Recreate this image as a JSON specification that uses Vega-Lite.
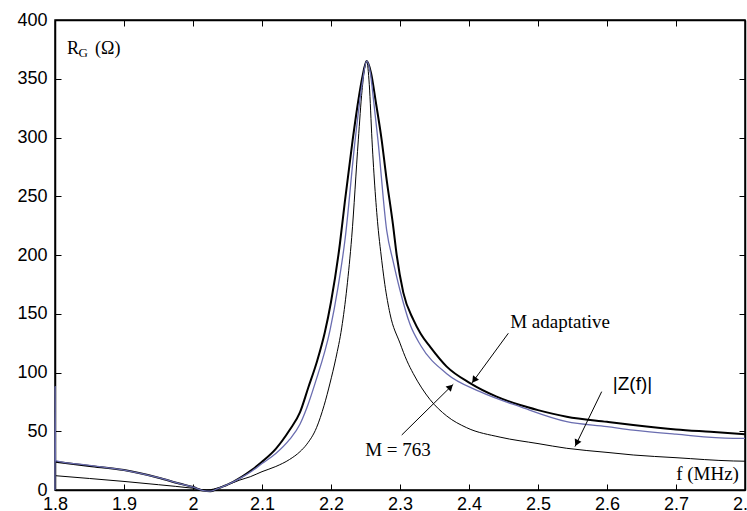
{
  "$schema": "https://vega.github.io/schema/vega-lite/v6.json",
  "width": 690,
  "height": 470,
  "autosize": {"type": "none"},
  "padding": {"left": 55, "top": 20, "right": 2, "bottom": 21},
  "background": "white",
  "config": {
    "view": {"stroke": "black", "strokeWidth": 1.5},
    "axis": {
      "grid": false,
      "domainColor": "black",
      "domainWidth": 1.5,
      "tickColor": "black",
      "tickWidth": 1,
      "labelFont": "Liberation Sans",
      "labelFontSize": 18,
      "labelColor": "black",
      "labelFlush": false,
      "labelOverlap": false,
      "labelBound": false
    }
  },
  "datasets": {
    "m763": [
      {"f": 1.8, "v": 12.2}, {"f": 1.85, "v": 9.8}, {"f": 1.9, "v": 7.3}, {"f": 1.95, "v": 4.5},
      {"f": 2.0, "v": 1.5}, {"f": 2.02, "v": 0}, {"f": 2.04, "v": 2.5}, {"f": 2.055, "v": 5.5},
      {"f": 2.068, "v": 8.5}, {"f": 2.083, "v": 11.3}, {"f": 2.1, "v": 15.6}, {"f": 2.12, "v": 20},
      {"f": 2.14, "v": 26}, {"f": 2.155, "v": 32.6}, {"f": 2.165, "v": 39}, {"f": 2.179, "v": 53},
      {"f": 2.19, "v": 72}, {"f": 2.1986, "v": 91}, {"f": 2.207, "v": 112}, {"f": 2.2155, "v": 138},
      {"f": 2.223, "v": 172}, {"f": 2.23, "v": 215}, {"f": 2.2396, "v": 298}, {"f": 2.245, "v": 340},
      {"f": 2.2517, "v": 365}, {"f": 2.2555, "v": 345}, {"f": 2.2594, "v": 298}, {"f": 2.2686, "v": 221},
      {"f": 2.272, "v": 203}, {"f": 2.278, "v": 175}, {"f": 2.2855, "v": 150}, {"f": 2.3, "v": 125},
      {"f": 2.31, "v": 110}, {"f": 2.3193, "v": 99}, {"f": 2.3435, "v": 77}, {"f": 2.3677, "v": 63},
      {"f": 2.3967, "v": 53}, {"f": 2.445, "v": 45}, {"f": 2.5, "v": 39.5}, {"f": 2.5416, "v": 35.5},
      {"f": 2.6, "v": 32}, {"f": 2.638, "v": 29.8}, {"f": 2.7, "v": 27.5}, {"f": 2.783, "v": 24.7},
      {"f": 2.8, "v": 24.5}
    ],
    "zf": [
      {"f": 1.8, "v": 0}, {"f": 1.8002, "v": 88}, {"f": 1.8006, "v": 25}, {"f": 1.85, "v": 21},
      {"f": 1.9, "v": 17}, {"f": 1.95, "v": 10.5}, {"f": 1.98, "v": 5.5}, {"f": 2.0, "v": 2.5},
      {"f": 2.015, "v": -0.5}, {"f": 2.025, "v": -1}, {"f": 2.035, "v": 1}, {"f": 2.05, "v": 4.5},
      {"f": 2.07, "v": 10.5}, {"f": 2.085, "v": 16}, {"f": 2.1, "v": 22.5}, {"f": 2.12, "v": 31},
      {"f": 2.14, "v": 43}, {"f": 2.155, "v": 56}, {"f": 2.165, "v": 70}, {"f": 2.177, "v": 91},
      {"f": 2.1986, "v": 136}, {"f": 2.21, "v": 172}, {"f": 2.2203, "v": 213}, {"f": 2.235, "v": 298},
      {"f": 2.245, "v": 345}, {"f": 2.2517, "v": 365}, {"f": 2.257, "v": 355}, {"f": 2.262, "v": 330},
      {"f": 2.268, "v": 298}, {"f": 2.2807, "v": 221}, {"f": 2.2903, "v": 194}, {"f": 2.3, "v": 170},
      {"f": 2.3145, "v": 141}, {"f": 2.33, "v": 123}, {"f": 2.3677, "v": 99}, {"f": 2.4159, "v": 83.7},
      {"f": 2.474, "v": 70.9}, {"f": 2.5416, "v": 58.2}, {"f": 2.6, "v": 54}, {"f": 2.638, "v": 51},
      {"f": 2.7, "v": 47.5}, {"f": 2.783, "v": 44}, {"f": 2.8, "v": 44}
    ],
    "madapt": [
      {"f": 1.8005, "v": 24}, {"f": 1.85, "v": 20.5}, {"f": 1.9, "v": 17}, {"f": 1.95, "v": 10.5},
      {"f": 1.98, "v": 5.5}, {"f": 2.0, "v": 2.5}, {"f": 2.015, "v": -0.5}, {"f": 2.025, "v": -1},
      {"f": 2.035, "v": 1}, {"f": 2.05, "v": 4.5}, {"f": 2.07, "v": 11}, {"f": 2.085, "v": 17},
      {"f": 2.1, "v": 24}, {"f": 2.12, "v": 35}, {"f": 2.14, "v": 51}, {"f": 2.155, "v": 66},
      {"f": 2.167, "v": 87}, {"f": 2.18, "v": 110}, {"f": 2.191, "v": 134},
      {"f": 2.2, "v": 160}, {"f": 2.213, "v": 210}, {"f": 2.22, "v": 245}, {"f": 2.2314, "v": 298},
      {"f": 2.24, "v": 333}, {"f": 2.245, "v": 350}, {"f": 2.2517, "v": 365}, {"f": 2.258, "v": 355},
      {"f": 2.265, "v": 330}, {"f": 2.2734, "v": 298}, {"f": 2.28, "v": 267}, {"f": 2.29, "v": 225},
      {"f": 2.2952, "v": 200}, {"f": 2.3048, "v": 168}, {"f": 2.3193, "v": 145}, {"f": 2.33, "v": 133},
      {"f": 2.3435, "v": 122}, {"f": 2.3677, "v": 105}, {"f": 2.4014, "v": 91}, {"f": 2.44, "v": 79.5},
      {"f": 2.474, "v": 72.3}, {"f": 2.5, "v": 68}, {"f": 2.5416, "v": 62.4}, {"f": 2.6, "v": 58},
      {"f": 2.638, "v": 55.3}, {"f": 2.7, "v": 51.5}, {"f": 2.75, "v": 49.5}, {"f": 2.8, "v": 47.5}
    ],
    "arrows": [
      {"f": 2.457, "v": 133.4, "f2": 2.4039, "v2": 90.8},
      {"f": 2.3025, "v": 46.8, "f2": 2.3772, "v2": 90.0},
      {"f": 2.5923, "v": 83.7, "f2": 2.5536, "v2": 36.9}
    ]
  },
  "layer": [
    {
      "data": {"name": "m763"},
      "mark": {"type": "line", "color": "black", "strokeWidth": 1, "interpolate": "monotone"},
      "encoding": {
        "x": {"field": "f", "type": "quantitative", "scale": {"domain": [1.8, 2.8], "nice": false, "zero": false},
              "axis": {"orient": "bottom", "title": null, "values": [1.8, 1.9, 2, 2.1, 2.2, 2.3, 2.4, 2.5, 2.6, 2.7, 2.8], "format": "~g", "tickSize": -6, "labelPadding": 11}},
        "y": {"field": "v", "type": "quantitative", "scale": {"domain": [0, 400], "nice": false},
              "axis": {"orient": "left", "title": null, "values": [0, 50, 100, 150, 200, 250, 300, 350, 400], "format": "d", "tickSize": -6, "labelPadding": 14}}
      }
    },
    {
      "data": {"name": "madapt"},
      "mark": {"type": "line", "color": "black", "strokeWidth": 2, "interpolate": "monotone"},
      "encoding": {
        "x": {"field": "f", "type": "quantitative", "axis": null},
        "y": {"field": "v", "type": "quantitative", "axis": null}
      }
    },
    {
      "data": {"name": "zf"},
      "mark": {"type": "line", "color": "#6a6db0", "strokeWidth": 1.3, "interpolate": "monotone"},
      "encoding": {
        "x": {"field": "f", "type": "quantitative", "scale": {"domain": [1.8, 2.8], "nice": false, "zero": false},
              "axis": {"orient": "top", "title": null, "values": [1.8, 1.9, 2, 2.1, 2.2, 2.3, 2.4, 2.5, 2.6, 2.7, 2.8], "labels": false, "tickSize": -6}},
        "y": {"field": "v", "type": "quantitative", "scale": {"domain": [0, 400], "nice": false},
              "axis": {"orient": "right", "title": null, "values": [0, 50, 100, 150, 200, 250, 300, 350, 400], "labels": false, "tickSize": -6}}
      }
    },
    {
      "data": {"name": "arrows"},
      "mark": {"type": "rule", "color": "black", "strokeWidth": 1},
      "encoding": {
        "x": {"field": "f", "type": "quantitative", "axis": null},
        "y": {"field": "v", "type": "quantitative", "axis": null},
        "x2": {"field": "f2"},
        "y2": {"field": "v2"}
      }
    },
    {
      "data": {"values": [{"f": 2.4074, "v": 93.5}]},
      "mark": {"type": "point", "shape": "triangle-up", "filled": true, "color": "black", "size": 55, "angle": 216, "opacity": 1},
      "encoding": {"x": {"field": "f", "type": "quantitative", "axis": null}, "y": {"field": "v", "type": "quantitative", "axis": null}}
    },
    {
      "data": {"values": [{"f": 2.3732, "v": 87.7}]},
      "mark": {"type": "point", "shape": "triangle-up", "filled": true, "color": "black", "size": 55, "angle": 45, "opacity": 1},
      "encoding": {"x": {"field": "f", "type": "quantitative", "axis": null}, "y": {"field": "v", "type": "quantitative", "axis": null}}
    },
    {
      "data": {"values": [{"f": 2.5561, "v": 39.9}]},
      "mark": {"type": "point", "shape": "triangle-up", "filled": true, "color": "black", "size": 55, "angle": 206, "opacity": 1},
      "encoding": {"x": {"field": "f", "type": "quantitative", "axis": null}, "y": {"field": "v", "type": "quantitative", "axis": null}}
    },
    {
      "data": {"values": [
        {"f": 2.532, "v": 143.2, "label": "M adaptative"},
        {"f": 2.2971, "v": 34, "label": "M = 763"},
        {"f": 2.7457, "v": 13.6, "label": "f (MHz)"}
      ]},
      "mark": {"type": "text", "font": "Liberation Serif", "fontSize": 19, "align": "center", "baseline": "middle", "color": "black"},
      "encoding": {"x": {"field": "f", "type": "quantitative", "axis": null}, "y": {"field": "v", "type": "quantitative", "axis": null}, "text": {"field": "label"}}
    },
    {
      "data": {"values": [{"f": 2.637, "v": 89.8, "label": "|Z(f)|"}]},
      "mark": {"type": "text", "font": "Liberation Sans", "fontSize": 19, "align": "center", "baseline": "middle", "color": "black"},
      "encoding": {"x": {"field": "f", "type": "quantitative", "axis": null}, "y": {"field": "v", "type": "quantitative", "axis": null}, "text": {"field": "label"}}
    },
    {
      "data": {"values": [{"f": 1.8174, "v": 371.1, "label": "R"}, {"f": 1.858, "v": 371.1, "label": "(Ω)"}]},
      "mark": {"type": "text", "font": "Liberation Serif", "fontSize": 18, "align": "left", "baseline": "alphabetic", "color": "black"},
      "encoding": {"x": {"field": "f", "type": "quantitative", "axis": null}, "y": {"field": "v", "type": "quantitative", "axis": null}, "text": {"field": "label"}}
    },
    {
      "data": {"values": [{"f": 1.8341, "v": 368.5, "label": "G"}]},
      "mark": {"type": "text", "font": "Liberation Serif", "fontSize": 13, "align": "left", "baseline": "alphabetic", "color": "black"},
      "encoding": {"x": {"field": "f", "type": "quantitative", "axis": null}, "y": {"field": "v", "type": "quantitative", "axis": null}, "text": {"field": "label"}}
    }
  ],
  "resolve": {"axis": {"x": "independent", "y": "independent"}}
}
